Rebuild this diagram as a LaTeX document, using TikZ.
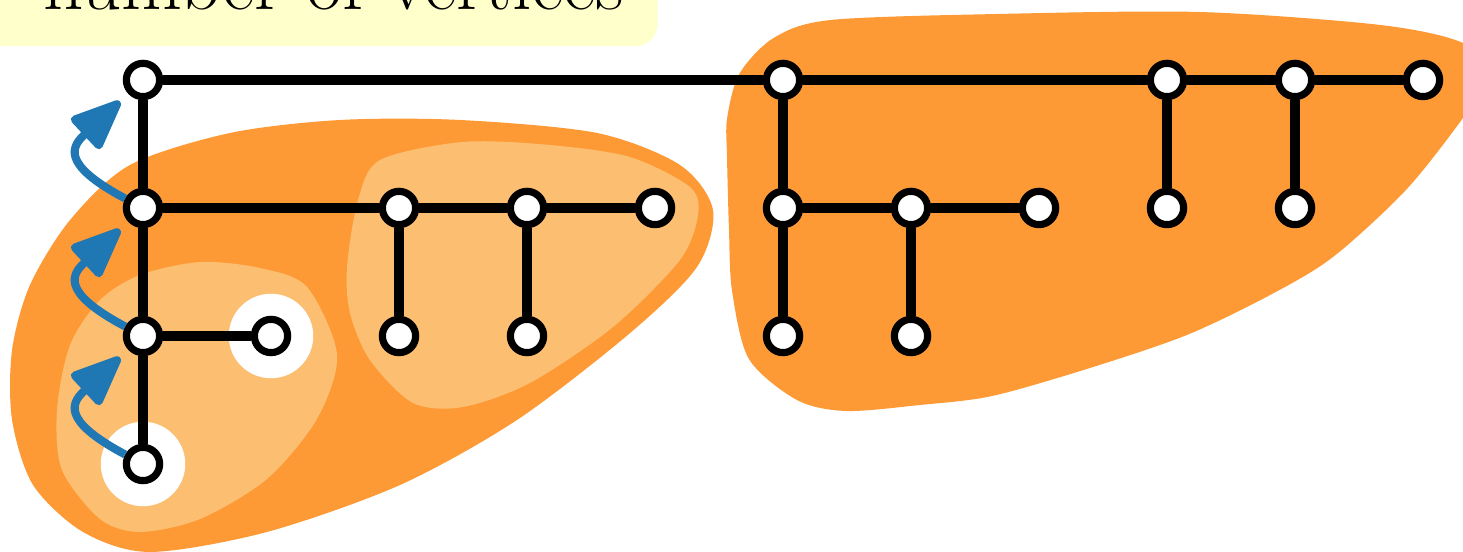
\documentclass[tikz,border=0pt]{standalone}
\usepackage{xcolor}
\usepackage{tikz}
\usetikzlibrary{arrows.meta, positioning, backgrounds}

\definecolor{blobdark}{HTML}{FE9A36}
\definecolor{blobpale}{HTML}{FCBE70}
\definecolor{notepale}{HTML}{FFFFCC}
\definecolor{flowblue}{HTML}{1F77B4}

\begin{document}
\begin{tikzpicture}[
    on grid,
    node distance=1cm,
    vertex/.style={circle, draw, fill=white, line width=1.6pt, inner sep=0pt, minimum size=7.4pt},
    link/.style={line width=2.1pt},
    flow/.style={-{Triangle[length=12.5pt, width=10pt, round]}, line width=1.8pt, flowblue, line join=round},
    halo/.style={circle, fill=white, inner sep=0pt, minimum size=0.66cm},
    blob/.style={fill=blobdark},
    subblob/.style={fill=blobpale}
]
\useasboundingbox (-1.1172,-3.6875) rectangle (10.3125,0.625);

% note box (cut off at the top)
\fill[notepale, rounded corners=0.17cm] (-1.4,1.4) rectangle (4.02,0.266);
\node[anchor=base, font=\fontsize{17.5}{21}\selectfont, inner sep=0pt] (note) at (1.49,0.55) {number of vertices};

% vertices
\node[vertex] (a0) at (0,0) {};
\node[vertex, below=of a0] (a1) {};
\node[vertex, below=of a1] (a2) {};
\node[vertex, below=of a2] (a3) {};
\node[vertex, right=of a2] (b2) {};
\node[vertex, right=2cm of a1] (c1) {};
\node[vertex, below=of c1] (c2) {};
\node[vertex, right=of c1] (d1) {};
\node[vertex, below=of d1] (d2) {};
\node[vertex, right=of d1] (e1) {};
\node[vertex, right=5cm of a0] (f0) {};
\node[vertex, below=of f0] (f1) {};
\node[vertex, below=of f1] (f2) {};
\node[vertex, right=of f1] (g1) {};
\node[vertex, below=of g1] (g2) {};
\node[vertex, right=of g1] (h1) {};
\node[vertex, right=3cm of f0] (i0) {};
\node[vertex, below=of i0] (i1) {};
\node[vertex, right=of i0] (j0) {};
\node[vertex, below=of j0] (j1) {};
\node[vertex, right=of j0] (k0) {};

% tree edges
\draw[link] (a0) -- (f0) -- (i0) -- (j0) -- (k0);
\draw[link] (a0) -- (a1) -- (a2) -- (a3);
\draw[link] (a1) -- (c1) -- (d1) -- (e1);
\draw[link] (c1) -- (c2);
\draw[link] (d1) -- (d2);
\draw[link] (a2) -- (b2);
\draw[link] (f0) -- (f1) -- (f2);
\draw[link] (f1) -- (g1) -- (h1);
\draw[link] (g1) -- (g2);
\draw[link] (i0) -- (i1);
\draw[link] (j0) -- (j1);

% climbing arrows
\draw[flow, shorten >=2.5pt] (a3) .. controls +(152:0.75) and +(223:0.75) .. (a2);
\draw[flow, shorten >=2.5pt] (a2) .. controls +(152:0.75) and +(223:0.75) .. (a1);
\draw[flow, shorten >=2.5pt] (a1) .. controls +(152:0.75) and +(223:0.75) .. (a0);

% groups
\begin{scope}[on background layer]
\fill[blob] plot[smooth cycle] coordinates {(0.055,-3.6875) (-0.469,-3.531) (-0.859,-3.164) (-1.023,-2.656)
    (-1.023,-2.109) (-0.883,-1.602) (-0.570,-1.094) (-0.102,-0.664) (0.680,-0.414) (1.539,-0.3125)
    (2.477,-0.3125) (3.547,-0.414) (4.195,-0.664) (4.453,-1.016) (4.328,-1.461) (3.805,-1.977)
    (2.922,-2.656) (2.008,-3.164) (0.969,-3.531)};
\fill[subblob] plot[smooth cycle] coordinates {(-0.672,-2.578) (-0.633,-3.047) (-0.336,-3.43) (-0.023,-3.531)
    (0.445,-3.43) (0.969,-3.117) (1.359,-2.648) (1.516,-2.148) (1.281,-1.617) (0.914,-1.469)
    (0.445,-1.422) (-0.023,-1.523) (-0.336,-1.719) (-0.570,-2.070)};
\fill[subblob] plot[smooth cycle] coordinates {(1.594,-1.461) (1.680,-0.9375) (1.852,-0.625) (2.5,-0.484)
    (3.180,-0.508) (3.805,-0.602) (4.273,-0.836) (4.336,-1.055) (4.195,-1.406) (3.672,-1.930)
    (3.023,-2.367) (2.5,-2.555) (2.109,-2.523) (1.773,-2.188) (1.617,-1.820)};
\fill[blob] plot[smooth cycle] coordinates {(4.563,-0.3) (4.5625,-0.594) (4.578,-1.172) (4.602,-1.648)
    (4.734,-2.180) (5.109,-2.5) (5.492,-2.586) (6.070,-2.539) (6.633,-2.469) (7.398,-2.25)
    (8.156,-1.992) (8.805,-1.680) (9.297,-1.383) (9.867,-0.859) (10.3125,-0.297) (10.523,0.039)
    (10.3125,0.289) (9.664,0.430) (8.258,0.531) (6.695,0.516) (5.375,0.469) (4.930,0.33) (4.66,0.05)};
\node[halo] (h3) at (a3) {};
\node[halo] (h2) at (b2) {};
\end{scope}
\end{tikzpicture}
\end{document}
